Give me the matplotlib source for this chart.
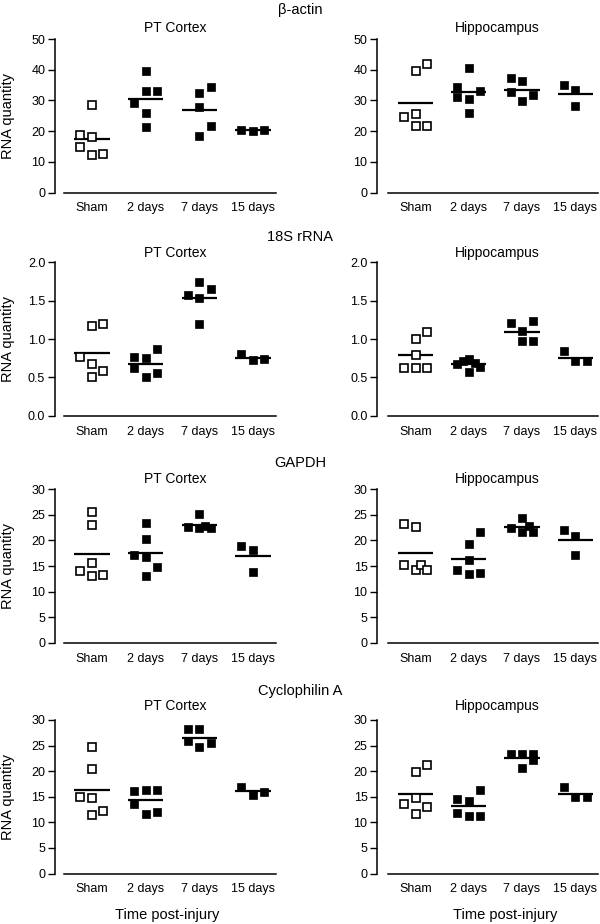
import matplotlib
matplotlib.use("Agg")
import matplotlib.pyplot as plt
import numpy as np

plt.rcParams['font.family'] = ['Liberation Sans', 'DejaVu Sans']

groups = ["Sham", "2 days", "7 days", "15 days"]
genes = ["β-actin", "18S rRNA", "GAPDH", "Cyclophilin A"]
regions = ["PT Cortex", "Hippocampus"]
y_max = [50, 2.0, 30, 30]
y_step = [10, 0.5, 5, 5]

# ---- values (per group) and horizontal slot of each point ----
actin_pt = [[28.4, 18.7, 18.2, 14.7, 12.1, 12.4],
            [29.1, 33.1, 33.1, 39.7, 26.0, 21.4],
            [32.4, 34.3, 27.7, 21.8, 18.4],
            [20.4, 20.0, 20.4]]
actin_pt_slot = [[0, -1, 0, -1, 0, 1], [-1, 0, 1, 0, 0, 0], [0, 1, 0, 1, 0], [-1, 0, 1]]

actin_hc = [[39.7, 41.9, 24.7, 25.7, 21.5, 21.5],
            [40.7, 34.5, 31.0, 30.5, 33.1, 25.8],
            [37.3, 36.2, 32.6, 31.8, 29.8],
            [35.1, 33.4, 28.2]]
actin_hc_slot = [[0, 1, -1, 0, 0, 1], [0, -1, -1, 0, 1, 0], [-1, 0, -1, 1, 0], [-1, 0, 0]]

rrna_pt = [[1.175, 1.197, 0.765, 0.67, 0.583, 0.51],
           [0.77, 0.747, 0.873, 0.626, 0.557, 0.505],
           [1.74, 1.655, 1.577, 1.54, 1.19],
           [0.81, 0.726, 0.734]]
rrna_pt_slot = [[0, 1, -1, 0, 1, 0], [-1, 0, 1, -1, 1, 0], [0, 1, -1, 0, 0], [-1, 0, 1]]

rrna_hc = [[1.093, 1.006, 0.79, 0.626, 0.618, 0.626],
           [0.68, 0.71, 0.74, 0.69, 0.63, 0.575],
           [1.21, 1.23, 1.10, 0.97, 0.98],
           [0.85, 0.713, 0.713]]
rrna_hc_slot = [[1, 0, 0, -1, 0, 1], [-1, -0.5, 0, 0.5, 1, 0], [-1, 1, 0, 0, 1], [-1, 0, 1]]

gapdh_pt = [[25.5, 23.0, 15.5, 14.0, 13.0, 13.3],
            [23.5, 20.2, 17.1, 16.7, 14.8, 13.1],
            [25.2, 22.6, 22.4, 22.9, 22.4],
            [19.0, 18.1, 13.9]]
gapdh_pt_slot = [[0, 0, 0, -1, 0, 1], [0, 0, -1, 0, 1, 0], [0, -1, 0, 0.5, 1], [-1, 0, 0]]

gapdh_hc = [[23.2, 22.7, 15.2, 14.3, 15.3, 14.3],
            [21.7, 19.4, 16.1, 14.3, 13.5, 13.7],
            [24.4, 22.5, 21.7, 22.8, 21.7],
            [22.0, 20.8, 17.2]]
gapdh_hc_slot = [[-1, 0, -1, 0, 0.5, 1], [1, 0, 0, -1, 0, 1], [0, -1, 0, 0.6, 1], [-1, 0, 0]]

cyclo_pt = [[24.7, 20.5, 14.9, 14.7, 11.5, 12.2],
            [16.1, 16.3, 16.4, 13.5, 11.6, 12.1],
            [28.2, 28.2, 25.8, 24.7, 25.6],
            [17.0, 15.3, 16.0]]
cyclo_pt_slot = [[0, 0, -1, 0, 0, 1], [-1, 0, 1, -1, 0, 1], [-1, 0, -1, 0, 1], [-1, 0, 1]]

cyclo_hc = [[21.2, 19.8, 13.5, 14.7, 12.9, 11.6],
            [16.4, 14.5, 14.2, 11.9, 11.2, 11.3],
            [23.4, 23.4, 23.4, 22.2, 20.7],
            [17.0, 14.9, 15.0]]
cyclo_hc_slot = [[1, 0, -1, 0, 1, 0], [1, -1, 0, -1, 0, 1], [-1, 0, 1, 1, 0], [-1, 0, 1]]

panels = [[(actin_pt, actin_pt_slot), (actin_hc, actin_hc_slot)],
          [(rrna_pt, rrna_pt_slot), (rrna_hc, rrna_hc_slot)],
          [(gapdh_pt, gapdh_pt_slot), (gapdh_hc, gapdh_hc_slot)],
          [(cyclo_pt, cyclo_pt_slot), (cyclo_hc, cyclo_hc_slot)]]

W, H = 600, 924
fig = plt.figure(figsize=(W / 100, H / 100), dpi=100)

def fx(px):
    return px / W

def fy(py):
    return 1 - py / H

col_left = [64, 388]
col_width = [212, 210]
spine_offset = [6.5, 7.8]
row_top = [39, 262.3, 489.3, 720]
row_h = 153.5
gene_title_y = [10, 237, 463, 691]
region_title_y = [28, 253, 479, 706]
region_title_x = [175, 497]
xlabel_x = [167, 505]
xlabel_y = 915
ylabel_x = 8

slot_w = 0.215
mean_half = 0.33

for r in range(4):
    fig.text(0.5, fy(gene_title_y[r]), genes[r], ha='center', va='center', fontsize=10.5)
    for c in range(2):
        vals, slots = panels[r][c]
        ax = fig.add_axes([fx(col_left[c]), fy(row_top[r] + row_h),
                           fx(col_width[c]), row_h / H])
        for g in range(4):
            v = np.array(vals[g])
            xs = g + slot_w * np.array(slots[g], dtype=float)
            m = v.mean()
            ax.plot([g - mean_half, g + mean_half], [m, m], color='black', lw=1.6,
                    solid_capstyle='butt', zorder=2)
            if g == 0:
                ax.plot(xs, v, linestyle='none', marker='s', markersize=6.0,
                        markerfacecolor='white', markeredgecolor='black',
                        markeredgewidth=1.2, zorder=3)
            else:
                ax.plot(xs, v, linestyle='none', marker='s', markersize=6.4,
                        markerfacecolor='black', markeredgecolor='black',
                        markeredgewidth=0.5, zorder=3)
        ax.set_xlim(-0.52, 3.43)
        ax.set_ylim(0, y_max[r])
        ticks = np.arange(0, y_max[r] + y_step[r] / 2, y_step[r])
        ax.set_yticks(ticks)
        if r == 1:
            ax.set_yticklabels([f"{t:.1f}" for t in ticks])
        else:
            ax.set_yticklabels([f"{int(round(t))}" for t in ticks])
        ax.set_xticks(range(4))
        ax.set_xticklabels(groups)
        ax.tick_params(axis='x', length=0, pad=7, labelsize=9)
        ax.tick_params(axis='y', length=5, width=1, pad=2, labelsize=9, direction='out')
        for s in ['top', 'right']:
            ax.spines[s].set_visible(False)
        ax.spines['left'].set_position(('outward', spine_offset[c]))
        ax.spines['left'].set_linewidth(1.1)
        ax.spines['bottom'].set_linewidth(1.1)
        ax.patch.set_visible(False)
        fig.text(fx(region_title_x[c]), fy(region_title_y[r]), regions[c],
                 ha='center', va='center', fontsize=10)
        if c == 0:
            fig.text(fx(ylabel_x), fy(row_top[r] + row_h / 2), "RNA quantity",
                     rotation=90, ha='center', va='center', fontsize=10.5)
        if r == 3:
            fig.text(fx(xlabel_x[c]), fy(xlabel_y), "Time post-injury",
                     ha='center', va='center', fontsize=10.5)

fig.savefig("out.png", dpi=100)
